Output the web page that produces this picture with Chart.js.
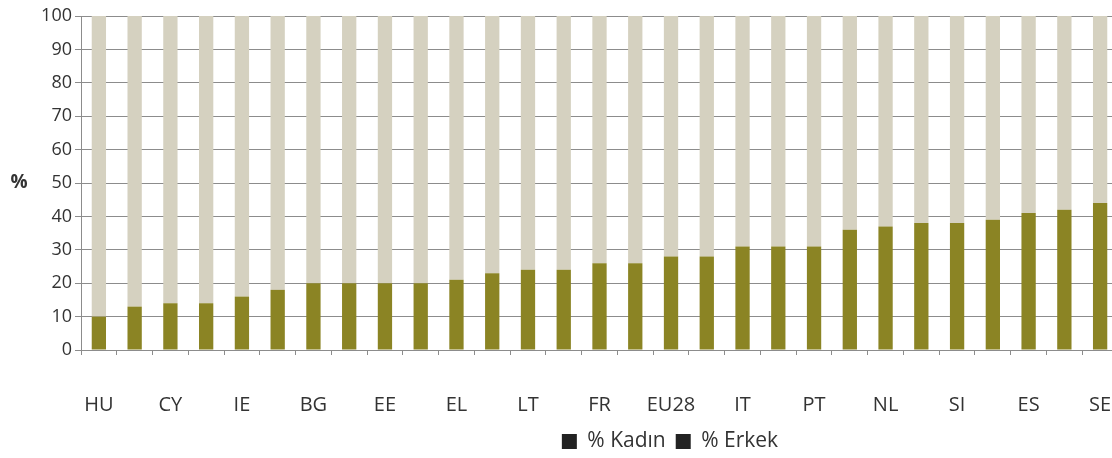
<!DOCTYPE html>
<html>
<head>
<meta charset="utf-8">
<script src="https://cdn.jsdelivr.net/npm/chart.js@4.4.0/dist/chart.umd.min.js"></script>
<style>
  html, body { margin: 0; padding: 0; background: #fff; overflow: hidden; }
  #c { display: block; }
</style>
</head>
<body>
<canvas id="c" width="1118" height="458" style="width:1118px;height:458px"></canvas>
<script>
const categories = ['HU','MT','CY','LU','IE','PL','BG','CZ','EE','SK','EL','RO','LT','AT','FR','HR','EU28','DE','IT','BE','PT','UK','NL','DK','SI','LV','ES','FI','SE'];
const kadin = [10,13,14,14,16,18,20,20,20,20,21,23,24,24,26,26,28,28,31,31,31,36,37,38,38,39,41,42,44];
const erkek = [90,87,86,86,84,82,80,80,80,80,79,77,76,76,74,74,72,72,69,69,69,64,63,62,62,61,59,58,56];
const yTicks = [0,10,20,30,40,50,60,70,80,90,100];
const seriesNames = ['% Kadın', '% Erkek'];

const FONT = "'Open Sans', 'DejaVu Sans', sans-serif";

const extras = {
  id: 'extras',
  afterLayout(chart) {
    const lg = chart.legend;
    if (lg) { lg.left += 111; lg.right += 111; lg.top += 4; lg.bottom += 4; }
  },
  afterDraw(chart) {
    const ctx = chart.ctx;
    const a = chart.chartArea;
    ctx.save();
    ctx.font = "bold 19px " + FONT;
    ctx.fillStyle = '#333';
    ctx.textAlign = 'center';
    ctx.textBaseline = 'middle';
    ctx.fillText('%', 19, (a.top + a.bottom) / 2);
    ctx.restore();
  }
};

new Chart(document.getElementById('c'), {
  type: 'bar',
  data: {
    labels: categories,
    datasets: [
      { label: seriesNames[0], data: kadin, backgroundColor: '#8b8424', borderWidth: 0 },
      { label: seriesNames[1], data: erkek, backgroundColor: '#d5d1c0', borderWidth: 0 }
    ]
  },
  options: {
    responsive: false,
    animation: false,
    datasets: { bar: { categoryPercentage: 1, barPercentage: 0.4 } },
    layout: { padding: { top: 16, right: 0, bottom: 0, left: 0 } },
    scales: {
      x: {
        stacked: true,
        offset: true,
        border: { display: true, color: '#8c8c8c', width: 1 },
        grid: { display: true, drawOnChartArea: false, drawTicks: true, tickLength: 5, color: '#8c8c8c', offset: true },
        ticks: {
          autoSkip: false,
          maxRotation: 0,
          padding: 0,
          color: '#333',
          font: { family: FONT, size: 20, lineHeight: '100px' },
          callback: function(v, i) { return i % 2 === 0 ? categories[i] : ''; }
        },
        afterFit(scale) { scale.height = 67; }
      },
      y: {
        stacked: true,
        min: 0,
        max: 100,
        afterBuildTicks(scale) { scale.ticks = yTicks.map(v => ({ value: v })); },
        border: { display: true, color: '#8c8c8c', width: 1 },
        grid: { color: '#8c8c8c', lineWidth: 1, tickLength: 6, drawTicks: true },
        ticks: {
          padding: 3,
          color: '#333',
          font: { family: FONT, size: 18 }
        },
        afterFit(scale) { scale.width = 81; }
      }
    },
    plugins: {
      legend: {
        position: 'bottom',
        labels: {
          color: '#333',
          font: { family: FONT, size: 21 },
          boxWidth: 15,
          boxHeight: 15,
          padding: 10,
          generateLabels(chart) {
            return chart.data.datasets.map((d, i) => ({
              text: d.label, fillStyle: '#222', strokeStyle: '#222', lineWidth: 0,
              hidden: false, datasetIndex: i, fontColor: '#333'
            }));
          }
        }
      },
      tooltip: { enabled: false }
    }
  },
  plugins: [extras]
});
</script>
</body>
</html>
